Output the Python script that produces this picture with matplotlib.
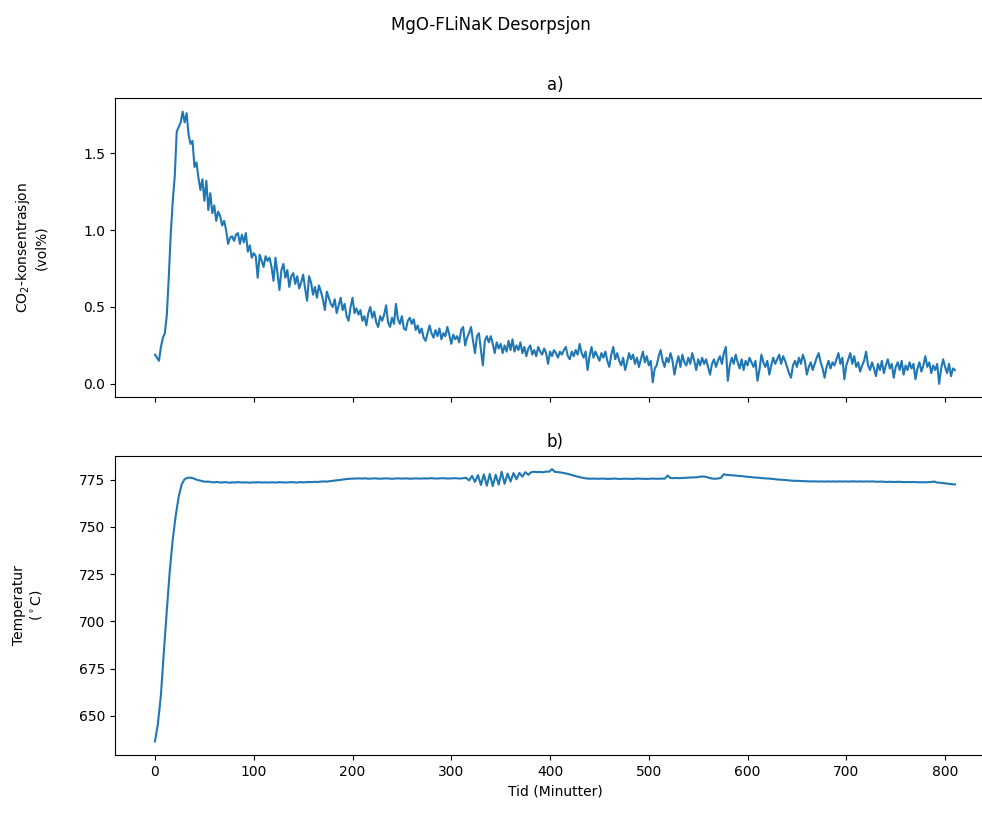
import numpy as np
import matplotlib
matplotlib.use("Agg")
import matplotlib.pyplot as plt

# =========================
# Data
# =========================
tid_co2 = np.arange(0, 811, 2)    # minutter, 2-min steps
tid_temp = np.arange(0, 811, 3)   # minutter, 3-min steps

co2 = [
    0.19, 0.17, 0.15, 0.24, 0.30, 0.33, 0.45, 0.70, 0.98, 1.19,
    1.35, 1.64, 1.67, 1.70, 1.77, 1.70, 1.76, 1.62, 1.56, 1.58,
    1.41, 1.44, 1.34, 1.26, 1.33, 1.19, 1.32, 1.13, 1.24, 1.11,
    1.16, 1.06, 1.12, 1.09, 1.03, 1.06, 1.00, 0.91, 0.95, 0.96,
    0.93, 0.97, 0.98, 0.91, 0.97, 0.92, 0.98, 0.86, 0.90, 0.82,
    0.85, 0.83, 0.69, 0.84, 0.80, 0.76, 0.83, 0.80, 0.82, 0.76,
    0.67, 0.82, 0.72, 0.61, 0.74, 0.78, 0.69, 0.74, 0.63, 0.70,
    0.72, 0.65, 0.70, 0.62, 0.66, 0.71, 0.62, 0.54, 0.70, 0.66,
    0.58, 0.63, 0.56, 0.64, 0.60, 0.55, 0.48, 0.60, 0.56, 0.52,
    0.50, 0.55, 0.46, 0.51, 0.56, 0.48, 0.52, 0.44, 0.41, 0.50,
    0.56, 0.46, 0.49, 0.45, 0.48, 0.41, 0.44, 0.38, 0.46, 0.50,
    0.43, 0.47, 0.40, 0.37, 0.44, 0.41, 0.45, 0.51, 0.40, 0.37,
    0.43, 0.39, 0.52, 0.42, 0.39, 0.44, 0.36, 0.35, 0.41, 0.43,
    0.39, 0.42, 0.35, 0.38, 0.33, 0.36, 0.30, 0.28, 0.33, 0.38,
    0.33, 0.30, 0.35, 0.31, 0.36, 0.29, 0.33, 0.31, 0.37, 0.32,
    0.26, 0.32, 0.29, 0.31, 0.27, 0.35, 0.37, 0.25, 0.30, 0.33,
    0.37, 0.28, 0.20, 0.31, 0.33, 0.22, 0.12, 0.28, 0.31, 0.27,
    0.31, 0.26, 0.20, 0.27, 0.23, 0.26, 0.20, 0.25, 0.21, 0.28,
    0.22, 0.29, 0.21, 0.25, 0.22, 0.27, 0.20, 0.24, 0.18, 0.23,
    0.25, 0.19, 0.22, 0.18, 0.24, 0.21, 0.19, 0.23, 0.20, 0.13,
    0.21, 0.18, 0.22, 0.20, 0.17, 0.21, 0.19, 0.22, 0.24, 0.18,
    0.16, 0.21, 0.18, 0.22, 0.19, 0.26, 0.20, 0.17, 0.21, 0.09,
    0.18, 0.24, 0.17, 0.21, 0.18, 0.15, 0.20, 0.17, 0.21, 0.15,
    0.11, 0.19, 0.24, 0.16, 0.20, 0.15, 0.12, 0.17, 0.09, 0.14,
    0.20, 0.16, 0.19, 0.13, 0.17, 0.11, 0.16, 0.21, 0.14, 0.18,
    0.12, 0.15, 0.01, 0.10, 0.12, 0.18, 0.22, 0.15, 0.11, 0.17,
    0.14, 0.20, 0.15, 0.06, 0.13, 0.18, 0.11, 0.19, 0.14, 0.12,
    0.17, 0.13, 0.20, 0.15, 0.09, 0.16, 0.12, 0.17, 0.13, 0.16,
    0.11, 0.06, 0.13, 0.16, 0.11, 0.15, 0.18, 0.13, 0.20, 0.24,
    0.02, 0.12, 0.17, 0.13, 0.19, 0.14, 0.10, 0.16, 0.09, 0.15,
    0.12, 0.17, 0.14, 0.11, 0.15, 0.02, 0.09, 0.19, 0.14, 0.11,
    0.15, 0.06, 0.12, 0.17, 0.13, 0.16, 0.19, 0.13, 0.18, 0.15,
    0.11, 0.07, 0.04, 0.12, 0.15, 0.11, 0.17, 0.13, 0.19, 0.15,
    0.06, 0.11, 0.14, 0.09, 0.13, 0.17, 0.20, 0.14, 0.10, 0.04,
    0.11, 0.15, 0.10, 0.14, 0.12, 0.16, 0.20, 0.13, 0.17, 0.03,
    0.12, 0.16, 0.20, 0.13, 0.18, 0.11, 0.14, 0.08, 0.12, 0.15,
    0.21, 0.12, 0.09, 0.14, 0.10, 0.05, 0.13, 0.09, 0.15, 0.07,
    0.12, 0.16, 0.10, 0.13, 0.04, 0.11, 0.14, 0.09, 0.15, 0.06,
    0.12, 0.09, 0.14, 0.10, 0.13, 0.03, 0.10, 0.14, 0.08, 0.12,
    0.18, 0.11, 0.14, 0.07, 0.12, 0.09, 0.13, 0.00, 0.10, 0.16,
    0.11, 0.07, 0.13, 0.05, 0.10, 0.09,
]

temperatur = [
    636.5, 646.0, 661.0, 684.0, 706.0, 727.0, 743.5, 756.0, 766.0, 772.5,
    775.3, 776.0, 776.1, 775.7, 775.0, 774.6, 774.2, 773.9, 774.0, 773.7,
    773.6, 773.8, 773.5, 773.6, 773.7, 773.4, 773.6, 773.5, 773.7, 773.6,
    773.5, 773.6, 773.4, 773.6, 773.5, 773.7, 773.5, 773.6, 773.5, 773.6,
    773.6, 773.5, 773.7, 773.6, 773.5, 773.6, 773.7, 773.6, 773.5, 773.7,
    773.6, 773.7, 773.8, 773.7, 773.9, 773.8, 774.0, 774.1, 774.0, 774.2,
    774.4, 774.6, 774.8, 775.0, 775.2, 775.4, 775.5, 775.6, 775.6, 775.7,
    775.6, 775.7, 775.5, 775.6, 775.7, 775.6, 775.5, 775.6, 775.7, 775.6,
    775.5, 775.6, 775.7, 775.6, 775.6, 775.7, 775.5, 775.6, 775.7, 775.6,
    775.6, 775.7, 775.6, 775.8, 775.7, 775.6, 775.7, 775.8, 775.7, 775.6,
    775.7, 775.8, 775.7, 775.6, 775.8, 776.0, 774.6, 777.0, 773.8, 777.4,
    772.2, 777.8, 771.8, 778.0, 771.6, 777.6, 772.4, 779.2, 772.8, 778.2,
    774.0, 778.5, 775.2, 778.6, 776.6, 779.0, 777.6, 779.0, 779.2, 779.0,
    779.1, 778.9, 779.3, 779.2, 780.6, 779.1, 779.0, 778.8, 778.5, 778.2,
    777.8, 777.3, 776.9, 776.5, 776.1, 775.8, 775.6, 775.5, 775.6, 775.5,
    775.5, 775.6, 775.5, 775.4, 775.5, 775.6, 775.5, 775.4, 775.5, 775.5,
    775.5, 775.4, 775.5, 775.6, 775.5, 775.5, 775.4, 775.5, 775.6, 775.5,
    775.5, 775.6, 775.5, 777.2, 775.9, 775.8, 775.9, 775.8, 775.9, 776.0,
    776.1, 776.2, 776.2, 776.3, 776.6, 776.7, 776.5, 776.0, 775.6, 775.5,
    775.6, 776.0, 777.9, 777.5, 777.4, 777.3, 777.2, 777.0, 776.9, 776.7,
    776.5, 776.4, 776.2, 776.1, 776.0, 775.8, 775.7, 775.6, 775.5, 775.3,
    775.1, 775.0, 774.9, 774.8, 774.6, 774.5, 774.4, 774.4, 774.3, 774.2,
    774.2, 774.1, 774.1, 774.1, 774.0, 774.1, 774.0, 774.1, 774.0, 774.1,
    774.0, 774.1, 774.0, 774.1, 774.0, 774.1, 774.1, 774.0, 774.1, 774.0,
    774.1, 774.0, 774.1, 774.0, 773.9, 774.0, 773.9, 773.8, 773.9, 773.8,
    773.8, 773.9, 773.8, 773.7, 773.8, 773.7, 773.8, 773.7, 773.6, 773.7,
    773.6, 773.7, 773.8, 774.0, 773.5, 773.4, 773.2, 773.0, 772.8, 772.6,
    772.5,
]

# =========================
# Plot
# =========================
fig, (ax1, ax2) = plt.subplots(2, 1, sharex=True, figsize=(9.82, 8.14), dpi=100)
fig.subplots_adjust(left=0.1171, right=1.0132, top=0.8796, bottom=0.0725, hspace=0.1937)

fig.suptitle("MgO-FLiNaK Desorpsjon")

ax1.plot(tid_co2, co2)
ax1.set_title("a)")
ax1.set_ylabel("CO$_2$-konsentrasjon\n(vol%)", labelpad=25)
ax1.set_yticks([0.0, 0.5, 1.0, 1.5])

ax2.plot(tid_temp, temperatur)
ax2.set_title("b)")
ax2.set_ylabel("Temperatur\n($^\\circ$C)", labelpad=25)
ax2.set_xlabel("Tid (Minutter)")
ax2.set_yticks([650, 675, 700, 725, 750, 775])
ax2.set_xticks([0, 100, 200, 300, 400, 500, 600, 700, 800])

fig.savefig("out.png", dpi=100)
